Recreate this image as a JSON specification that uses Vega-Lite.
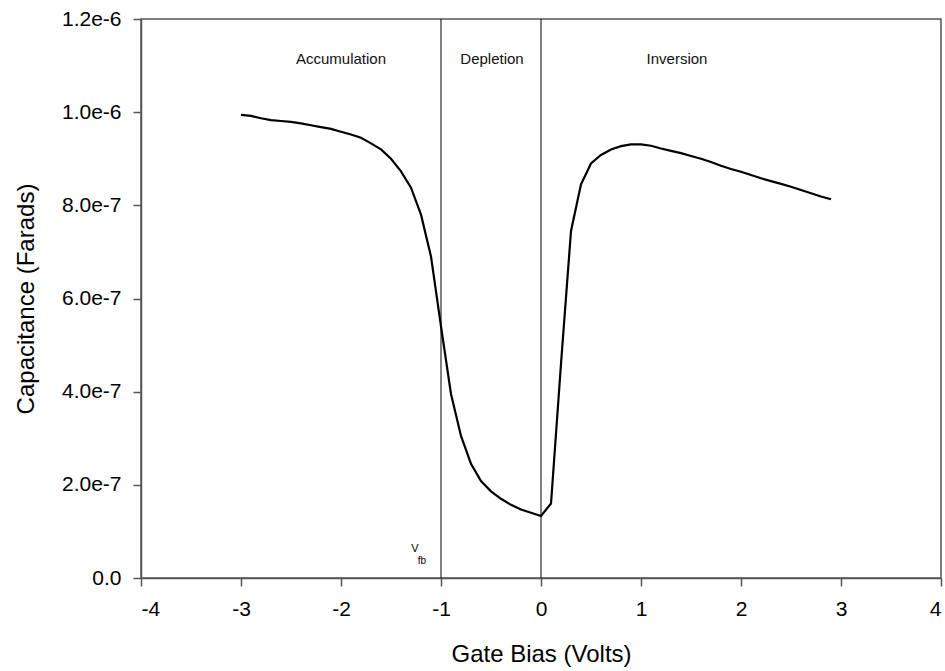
{
  "$schema": "https://vega.github.io/schema/vega-lite/v6.json",
  "autosize": {"type": "none"},
  "padding": {"left": 141, "top": 19, "right": 4, "bottom": 93},
  "width": 800,
  "height": 559,
  "background": "white",
  "config": {
    "view": {"stroke": "#555555", "strokeWidth": 1.5},
    "font": "Liberation Sans",
    "axis": {
      "grid": false,
      "domainColor": "#555555",
      "domainWidth": 1.5,
      "tickColor": "#555555",
      "tickWidth": 1.5,
      "tickSize": 8,
      "labelFont": "Liberation Sans",
      "labelFontSize": 21,
      "labelColor": "black",
      "titleFont": "Liberation Sans",
      "titleFontSize": 24,
      "titleFontWeight": "normal",
      "titleColor": "black"
    }
  },
  "layer": [
    {
      "data": {"values": [
        {"bias": -3.0, "cap": 9.94e-7}, {"bias": -2.9, "cap": 9.92e-7}, {"bias": -2.8, "cap": 9.87e-7},
        {"bias": -2.7, "cap": 9.83e-7}, {"bias": -2.6, "cap": 9.81e-7}, {"bias": -2.5, "cap": 9.79e-7},
        {"bias": -2.4, "cap": 9.76e-7}, {"bias": -2.3, "cap": 9.72e-7}, {"bias": -2.2, "cap": 9.68e-7},
        {"bias": -2.1, "cap": 9.64e-7}, {"bias": -2.0, "cap": 9.58e-7}, {"bias": -1.9, "cap": 9.52e-7},
        {"bias": -1.8, "cap": 9.45e-7}, {"bias": -1.7, "cap": 9.33e-7}, {"bias": -1.6, "cap": 9.20e-7},
        {"bias": -1.5, "cap": 9.00e-7}, {"bias": -1.4, "cap": 8.73e-7}, {"bias": -1.3, "cap": 8.38e-7},
        {"bias": -1.2, "cap": 7.80e-7}, {"bias": -1.1, "cap": 6.90e-7}, {"bias": -1.0, "cap": 5.40e-7},
        {"bias": -0.9, "cap": 3.95e-7}, {"bias": -0.8, "cap": 3.05e-7}, {"bias": -0.7, "cap": 2.45e-7},
        {"bias": -0.6, "cap": 2.08e-7}, {"bias": -0.5, "cap": 1.86e-7}, {"bias": -0.4, "cap": 1.70e-7},
        {"bias": -0.3, "cap": 1.57e-7}, {"bias": -0.2, "cap": 1.47e-7}, {"bias": -0.1, "cap": 1.40e-7},
        {"bias": 0.0, "cap": 1.33e-7}, {"bias": 0.1, "cap": 1.60e-7}, {"bias": 0.2, "cap": 4.60e-7},
        {"bias": 0.3, "cap": 7.45e-7}, {"bias": 0.4, "cap": 8.45e-7}, {"bias": 0.5, "cap": 8.90e-7},
        {"bias": 0.6, "cap": 9.08e-7}, {"bias": 0.7, "cap": 9.20e-7}, {"bias": 0.8, "cap": 9.27e-7},
        {"bias": 0.9, "cap": 9.31e-7}, {"bias": 1.0, "cap": 9.31e-7}, {"bias": 1.1, "cap": 9.28e-7},
        {"bias": 1.2, "cap": 9.22e-7}, {"bias": 1.3, "cap": 9.17e-7}, {"bias": 1.4, "cap": 9.12e-7},
        {"bias": 1.5, "cap": 9.06e-7}, {"bias": 1.6, "cap": 9.00e-7}, {"bias": 1.7, "cap": 8.93e-7},
        {"bias": 1.8, "cap": 8.85e-7}, {"bias": 1.9, "cap": 8.78e-7}, {"bias": 2.0, "cap": 8.72e-7},
        {"bias": 2.1, "cap": 8.65e-7}, {"bias": 2.2, "cap": 8.58e-7}, {"bias": 2.3, "cap": 8.52e-7},
        {"bias": 2.4, "cap": 8.46e-7}, {"bias": 2.5, "cap": 8.40e-7}, {"bias": 2.6, "cap": 8.33e-7},
        {"bias": 2.7, "cap": 8.26e-7}, {"bias": 2.8, "cap": 8.19e-7}, {"bias": 2.9, "cap": 8.13e-7}
      ]},
      "mark": {"type": "line", "color": "black", "strokeWidth": 2.2},
      "encoding": {
        "x": {
          "field": "bias", "type": "quantitative",
          "scale": {"domain": [-4, 4], "nice": false, "zero": false},
          "axis": {
            "title": "Gate Bias (Volts)",
            "values": [-4, -3, -2, -1, 0, 1, 2, 3, 4],
            "labelExpr": "datum.value < 0 ? '-' + abs(datum.value) : '' + datum.value",
            "labelPadding": 12,
            "titlePadding": 23
          }
        },
        "y": {
          "field": "cap", "type": "quantitative",
          "scale": {"domain": [0, 1.2e-6], "nice": false},
          "axis": {
            "title": "Capacitance (Farads)",
            "values": [0, 2e-7, 4e-7, 6e-7, 8e-7, 1e-6, 1.2e-6],
            "labelExpr": "datum.value == 0 ? '0.0' : replace(format(datum.value, '.1e'), '−', '-')",
            "labelPadding": 12,
            "titlePadding": 23
          }
        }
      }
    },
    {
      "data": {"values": [{"v": -1}, {"v": 0}]},
      "mark": {"type": "rule", "color": "black", "strokeWidth": 1},
      "encoding": {"x": {"field": "v", "type": "quantitative"}}
    },
    {
      "data": {"values": [
        {"label": "Accumulation", "bias": -2.0, "cap": 1.115e-6},
        {"label": "Depletion", "bias": -0.49, "cap": 1.115e-6},
        {"label": "Inversion", "bias": 1.36, "cap": 1.115e-6}
      ]},
      "mark": {"type": "text", "fontSize": 15, "color": "#111111", "align": "center", "baseline": "middle", "font": "Liberation Sans"},
      "encoding": {
        "x": {"field": "bias", "type": "quantitative"},
        "y": {"field": "cap", "type": "quantitative"},
        "text": {"field": "label"}
      }
    },
    {
      "data": {"values": [
        {"label": "V", "bias": -1.26, "cap": 0.62e-7, "size": 11},
        {"label": "fb", "bias": -1.19, "cap": 0.36e-7, "size": 10}
      ]},
      "mark": {"type": "text", "color": "black", "align": "center", "baseline": "middle", "font": "Liberation Sans"},
      "encoding": {
        "x": {"field": "bias", "type": "quantitative"},
        "y": {"field": "cap", "type": "quantitative"},
        "text": {"field": "label"},
        "size": {"field": "size", "type": "quantitative", "scale": null, "legend": null}
      }
    }
  ]
}
